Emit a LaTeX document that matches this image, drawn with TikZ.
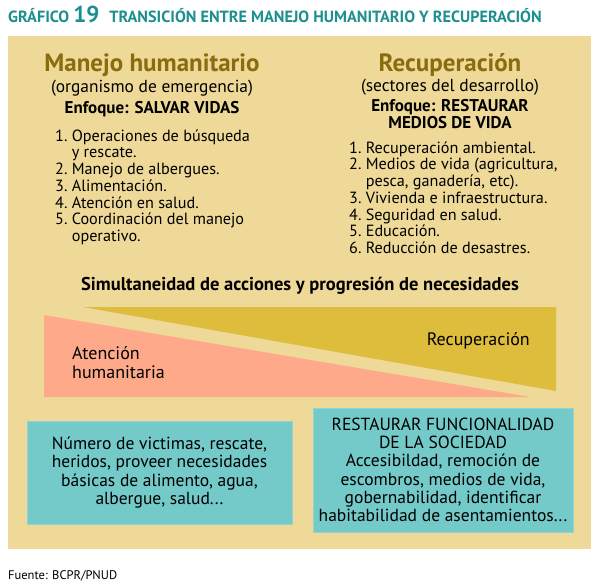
\documentclass[tikz,border=0pt]{standalone}
\usepackage{fontspec}
\setmainfont{PT Sans}
\definecolor{panel}{HTML}{EED998}
\definecolor{titleteal}{HTML}{1C8F8E}
\definecolor{headolive}{HTML}{8A6C0E}
\definecolor{goldtri}{HTML}{DDBD3B}
\definecolor{salmontri}{HTML}{FDA98A}
\definecolor{tealbox}{HTML}{74C9C9}
\tikzset{
  headtxt/.style={text=headolive, font=\fontsize{25}{28}\selectfont\bfseries, inner sep=0pt},
  subtxt/.style={font=\fontsize{17.4}{19}\selectfont, inner sep=0pt},
  focustxt/.style={font=\fontsize{17}{17.5}\selectfont\bfseries, inner sep=0pt, align=center},
  listtxt/.style={font=\fontsize{16.2}{16.8}\selectfont, inner sep=0pt, anchor=base west},
  boxnode/.style={fill=tealbox, draw=tealbox!80!white, line width=0.6pt, align=center, inner sep=0pt, font=\fontsize{17.5}{18.3}\selectfont},
  midtxt/.style={font=\fontsize{18}{19}\selectfont, inner sep=0pt, align=left}
}
\begin{document}
\begin{tikzpicture}[x=1pt,y=-1pt]
\useasboundingbox (0,0) rectangle (600,586);
% panel
\fill[panel] (8,36) rectangle (591,549);
% title
\node[anchor=base west, inner sep=0pt, text=titleteal, font=\bfseries] (title) at (8,23)
  {\fontsize{16.2}{18}\selectfont GRÁFICO \fontsize{23}{24}\selectfont 19 \fontsize{16.2}{18}\selectfont\ TRANSICIÓN ENTRE MANEJO HUMANITARIO Y RECUPERACIÓN};
% left column
\node[headtxt] (lhead) at (152,65) {Manejo humanitario};
\node[subtxt] (lsub) at (152,88) {(organismo de emergencia)};
\node[focustxt] (lfocus) at (152,109) {Enfoque: SALVAR VIDAS};
\node[listtxt] (llist) at (55,141) {\begin{tabular}[t]{@{}r@{\ }l@{}}
1. & Operaciones de búsqueda\\
   & y rescate.\\
2. & Manejo de albergues.\\
3. & Alimentación.\\
4. & Atención en salud.\\
5. & Coordinación del manejo\\
   & operativo.
\end{tabular}};
% right column
\node[headtxt] (rhead) at (450,65) {Recuperación};
\node[subtxt] (rsub) at (450,87) {(sectores del desarrollo)};
\node[focustxt, anchor=north] (rfocus) at (450,99) {Enfoque: RESTAURAR\\MEDIOS DE VIDA};
\node[listtxt] (rlist) at (349,153) {\begin{tabular}[t]{@{}r@{\ }l@{}}
1. & Recuperación ambiental.\\
2. & Medios de vida (agricultura,\\
   & pesca, ganadería, etc).\\
3. & Vivienda e infraestructura.\\
4. & Seguridad en salud.\\
5. & Educación.\\
6. & Reducción de desastres.
\end{tabular}};
% middle
\node[font=\fontsize{18.5}{20}\selectfont\bfseries, inner sep=0pt] (simul) at (300,286) {Simultaneidad de acciones y progresión de necesidades};
\fill[goldtri] (83,307) -- (556,307) -- (556,391) -- cycle;
\fill[salmontri] (44,315) -- (44,397) -- (530,397) -- cycle;
\node[midtxt, anchor=west] (aten) at (72,363) {Atención\\humanitaria};
\node[midtxt, anchor=east] (recu) at (530,341) {Recuperación};
% boxes
\node[boxnode, minimum width=265pt, minimum height=103pt] (lbox) at (159.5,472.5)
  {Número de victimas, rescate,\\heridos, proveer necesidades\\básicas de alimento, agua,\\albergue, salud...};
\node[boxnode, minimum width=260pt, minimum height=124pt] (rbox) at (443,470)
  {RESTAURAR FUNCIONALIDAD\\DE LA SOCIEDAD\\Accesibildad, remoción de\\escombros, medios de vida,\\gobernabilidad, identificar\\habitabilidad de asentamientos...};
% source
\node[anchor=base west, inner sep=0pt, font=\fontsize{12.5}{13}\selectfont] (src) at (8,579) {Fuente: BCPR/PNUD};
\end{tikzpicture}
\end{document}
